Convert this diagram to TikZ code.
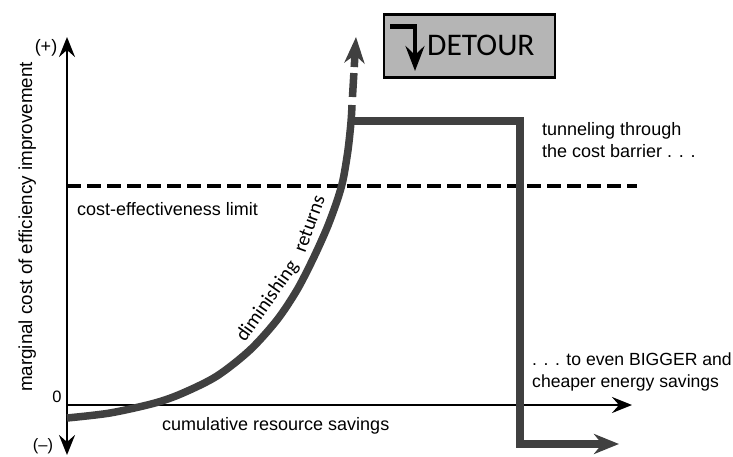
\documentclass[tikz,border=0pt]{standalone}
\usepackage{fontspec}
\setmainfont{Liberation Sans}
\newfontfamily\carl{Carlito}
\usetikzlibrary{arrows.meta}
\definecolor{curvegray}{RGB}{64,64,64}
\definecolor{boxgray}{RGB}{181,181,181}
\begin{document}
\begin{tikzpicture}[x=1pt,y=-1pt,
  axisline/.style={line width=2.6pt, black},
  gline/.style={line width=7.5pt, curvegray, line join=miter},
  limitline/.style={line width=3.5pt, black, dash pattern=on 14pt off 6pt},
  lbl/.style={font=\fontsize{18}{22}\selectfont, inner sep=0pt, text=black},
  small/.style={font=\fontsize{16.5}{18}\selectfont, inner sep=0pt},
  curvelbl/.style={font=\carl\fontsize{20}{24}\selectfont, inner sep=0pt},
]
\useasboundingbox (0,0) rectangle (733,457);

% axes
\coordinate (O) at (67,405);
\coordinate (ytop) at (67,37);
\coordinate (ybot) at (67,455);
\coordinate (xend) at (632,405);
\draw[axisline, {Stealth[length=20pt,width=16pt,inset=7pt]}-{Stealth[length=20pt,width=16pt,inset=7pt]}] (ybot) -- (ytop);
\draw[axisline, -{Stealth[length=20pt,width=16pt,inset=7pt]}] (O) -- (xend);

% cost-effectiveness limit
\coordinate (lim0) at (67,186);
\coordinate (lim1) at (637,186);
\draw[limitline] (lim0) -- (lim1);

% diminishing returns curve
\coordinate (c0) at (67,418);
\coordinate (c1) at (352,105);
\coordinate (tip) at (356,37);
\draw[gline, line cap=butt] plot[smooth, tension=0.5] coordinates {(67,418) (110,413) (155,403) (183,393) (217,376) (250,350) (277,320) (297,290) (313,259) (327,228) (337,201) (343,180) (348,150) (351,122) (352,105)};
\draw[gline, dash pattern=on 0pt off 8pt on 24pt off 6pt on 200pt, -{Stealth[length=26pt,width=20pt,inset=8pt]}] (c1) -- (tip);

% tunnel
\coordinate (t0) at (348,121);
\coordinate (t1) at (520,121);
\coordinate (t2) at (520,444);
\coordinate (t3) at (619,444);
\draw[gline, -{Stealth[length=25pt,width=20pt,inset=8pt]}] (t0) -- (t1) -- (t2) -- (t3);

% DETOUR box
\node[draw=black, line width=2.8pt, fill=boxgray, minimum width=171pt, minimum height=63pt, inner sep=0pt] (detour) at (469.5,46) {};
\coordinate (d0) at (390,26.5);
\coordinate (d1) at (415,71);
\draw[line width=4.5pt, black, -{Stealth[length=25pt,width=19pt,inset=9pt]}] (d0) -| (d1);
\node[font=\carl\fontsize{31.5}{34}\selectfont, inner sep=0pt, anchor=base west] (dtext) at (427,55.5) {DETOUR};

% labels
\node[font=\fontsize{18.8}{22}\selectfont, inner sep=0pt, rotate=90, anchor=base] (ylab) at (32,227) {marginal cost of efficiency improvement};
\node[font=\fontsize{18}{20}\selectfont, inner sep=0pt] (plus) at (46,48) {(+)};
\node[small] (minus) at (43,446) {(–)};
\node[small] (zero) at (57,397) {0};
\node[lbl, anchor=base west] (cel) at (77,215) {cost-effectiveness limit};
\node[lbl, anchor=base west] (crs) at (162,430) {cumulative resource savings};
\node[lbl, anchor=base west] (tun1) at (542,136) {tunneling through};
\node[lbl, anchor=base west] (tun2) at (542,158) {the cost barrier . . .};
\node[lbl, font=\fontsize{17.6}{22}\selectfont, anchor=base west] (big1) at (532,365) {. . . to even BIGGER and};
\node[lbl, font=\fontsize{17.6}{22}\selectfont, anchor=base west] (big2) at (532,387) {cheaper energy savings};
\node[curvelbl, rotate=55, anchor=base west] (dim) at (245,343) {diminishing};
\node[curvelbl, rotate=70, anchor=base west] (ret) at (305,254) {returns};
\end{tikzpicture}
\end{document}
